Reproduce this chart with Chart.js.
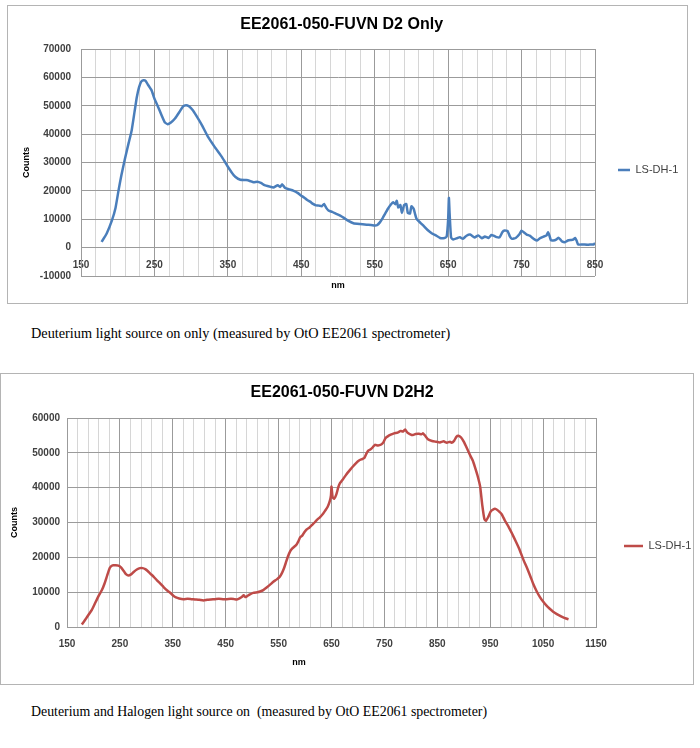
<!DOCTYPE html>
<html><head><meta charset="utf-8">
<script src="https://cdn.jsdelivr.net/npm/chart.js@4/dist/chart.umd.min.js"></script>
<style>
html,body{margin:0;padding:0;background:#fff;}
body{position:relative;width:700px;height:748px;overflow:hidden;}
.box{position:absolute;border:1px solid #b4b4b4;}
.box canvas{position:absolute;left:0;top:0;}
.cap{position:absolute;left:31px;font-family:"Liberation Serif","Times New Roman",serif;font-size:15px;line-height:20px;color:#000;white-space:pre;transform-origin:0 50%;}
</style></head><body>
<div class="box" style="left:7px;top:5px;width:679px;height:297px"><canvas id="c1" width="678" height="296"></canvas></div>
<div class="cap" style="top:323px;transform:scaleX(0.952)">Deuterium light source on only (measured by OtO EE2061 spectrometer)</div>
<div class="box" style="left:0;top:373px;width:692px;height:310px"><canvas id="c2" width="692" height="310"></canvas></div>
<div class="cap" style="top:701px;transform:scaleX(0.924)">Deuterium and Halogen light source on  (measured by OtO EE2061 spectrometer)</div>
<script>
// ---- data ----
const title1 = 'EE2061-050-FUVN D2 Only';
const title2 = 'EE2061-050-FUVN D2H2';
const seriesLabel = 'LS-DH-1';
const xTitle = 'nm';
const yTitle = 'Counts';

const xMajor1 = [150, 250, 350, 450, 550, 650, 750, 850];
const yTicks1 = [-10000, 0, 10000, 20000, 30000, 40000, 50000, 60000, 70000];
const xMajor2 = [150, 250, 350, 450, 550, 650, 750, 850, 950, 1050, 1150];
const yTicks2 = [0, 10000, 20000, 30000, 40000, 50000, 60000];

const nm1 = [178,185,192,197,201,205,210,215,219,223,226,229,232,235,238,241,246,250,255,260,264,268,272,278,284,289,293,297,302,307,315,323,332,342,350,355,360,367,375,380,385,390,395,400,407,412,418,421,424,428,434,439,445,450,453,458,462,466,470,474,478,481,484,487,492,497,503,508,513,521,530,539,545,550,553,557,561,564,568,572,575,578,580,582,585,587,590,593,595,598,600,603,605,607,612,616,622,628,632,639,645,648,650,651,652,654,657,662,666,670,675,680,686,691,696,700,705,709,712,716,720,724,727,731,734,737,742,747,750,753,757,761,764,767,771,775,780,784,786,788,790,793,797,800,803,805,809,813,817,820,823,825,827,833,840,845,848,850];
const counts1 = [2000,5000,9500,14000,20000,25500,31500,37000,41300,48000,53000,56500,58500,59000,58800,57500,55500,52500,49600,46500,44200,43500,44000,45500,47800,49800,50200,49800,48500,46500,43000,39000,35500,31900,28500,26600,25000,23900,23800,23500,23000,23200,22800,22000,21500,21200,22000,21400,22300,21000,20500,20100,19300,18300,17800,16800,16200,15400,14900,14800,14600,15400,14000,13100,12600,12000,11300,10500,9600,8600,8300,8100,8000,7800,7900,8900,10500,11900,13700,15200,16000,15300,16500,14200,15000,12200,15000,15400,12300,12000,14600,13700,11800,10100,8800,7800,6200,5000,4500,3400,3400,3900,10000,17500,12000,3500,2900,3300,3700,3100,4200,4600,3600,4300,3300,3900,3400,4500,4200,3700,3600,5500,6000,5800,4000,3100,3400,4700,6000,5400,4600,4200,3600,3000,2500,3300,3900,4300,5400,4200,2600,2500,2800,3500,2800,2200,1900,2500,2700,2800,3400,2400,1100,1100,1000,1100,1100,1600];

const nm2 = [178,185,192,197,203,210,216,221,226,231,236,242,247,252,258,262,266,271,276,282,288,293,298,303,307,314,320,326,333,340,346,351,356,362,370,378,385,392,400,408,415,422,430,437,445,452,460,466,471,477,481,484,487,490,495,502,510,515,521,528,535,540,546,552,556,560,564,568,572,576,580,584,587,591,595,599,603,608,614,618,622,628,634,638,643,647,649,650,652,655,659,663,666,672,678,685,690,696,702,708,712,716,720,724,728,732,738,744,748,752,757,762,768,775,781,785,789,793,798,804,809,815,820,823,827,833,840,847,855,862,868,874,877,882,886,890,895,900,906,912,917,921,926,931,935,939,942,946,951,956,960,965,972,978,985,991,998,1005,1013,1020,1026,1031,1038,1044,1050,1056,1062,1069,1076,1083,1090,1098];
const counts2 = [700,2200,3800,4900,6800,9000,10600,12500,14800,17000,17700,17700,17600,17100,15900,15100,14800,15100,15800,16500,16900,16900,16600,16000,15400,14400,13400,12500,11400,10400,9700,9000,8500,8200,8000,8100,8000,7900,7800,7600,7800,7900,8000,8100,8000,8000,8100,8000,7900,8300,8700,9100,8600,8800,9300,9800,10000,10200,10600,11400,12300,13000,13600,14400,15400,16800,18600,20400,21800,22600,23100,23700,24500,25800,26300,27300,28000,28500,29400,30000,30700,31500,32500,33400,34600,36300,37800,40300,37300,36800,38000,40200,41300,42500,43800,45100,46000,47000,47800,48200,48500,49800,50700,51000,51600,52300,52100,52400,53000,54200,54800,55200,55600,55800,56300,56100,56700,55900,55400,55100,55400,55500,55300,55600,54900,53800,53400,53200,53000,53300,52900,53200,52900,53500,54600,54900,54400,53200,51300,49300,47800,46000,43500,40300,35000,31000,30500,31500,33200,33800,33900,33400,32300,30500,28700,26900,24700,22400,19200,16800,14500,12500,10200,8600,7300,6200,5300,4400,3700,3100,2600,2200];

// ---- styling ----
const FONT = '"Liberation Sans", Arial, sans-serif';
const GRID_MAJOR = '#9b9b9b', GRID_MINOR = '#d6d6d6', TXT = '#404040';

const legendPlace = {
  id: 'legendPlace',
  afterLayout(chart, args, o) {
    const lg = chart.legend;
    if (!lg || o.x == null) return;
    const pad = lg.options.labels.padding;
    const dx = o.x - (lg.left + pad);
    const dy = o.y - (lg.top + lg.bottom) / 2;
    lg.left += dx; lg.right += dx; lg.top += dy; lg.bottom += dy;
  }
};

function build(id, s) {
  return new Chart(document.getElementById(id), {
    type: 'line',
    data: { datasets: [{
      label: seriesLabel,
      data: s.nm.map((x, i) => ({ x: x, y: s.counts[i] })),
      borderColor: s.color, backgroundColor: s.color,
      borderWidth: 2.5, pointRadius: 0, tension: 0.15, fill: false
    }]},
    plugins: [legendPlace],
    options: {
      responsive: false, animation: false, devicePixelRatio: 1,
      events: [],
      layout: { padding: { left: 0, top: 0, right: s.padR, bottom: s.padB } },
      plugins: {
        title: { display: true, text: s.title, color: '#000',
                 font: { family: FONT, size: 16, weight: 'bold' },
                 padding: { top: s.tpt, bottom: s.tpb } },
        legend: { position: 'right',
                  labels: { usePointStyle: true, pointStyle: 'line', pointStyleWidth: s.lw,
                            color: TXT, font: { family: FONT, size: 11 }, padding: 10 } },
        legendPlace: { x: s.lx, y: s.ly },
        tooltip: { enabled: false }
      },
      scales: {
        x: {
          type: 'linear', position: s.xPos, min: s.xMajor[0], max: s.xMajor[s.xMajor.length - 1],
          ticks: { stepSize: 20, autoSkip: false, maxRotation: 0, padding: s.xtp, color: TXT,
                   font: { family: FONT, size: 10, weight: 'bold' },
                   callback: (v) => s.xMajor.includes(Math.round(v)) ? String(Math.round(v)) : '' },
          grid: { drawTicks: false, lineWidth: 1,
                  color: (c) => (c.tick && s.xMajor.includes(Math.round(c.tick.value))) ? GRID_MAJOR : GRID_MINOR },
          border: { color: GRID_MAJOR },
          title: { display: true, text: s.xTitleText, color: '#000',
                   font: { family: FONT, size: 9, weight: 'bold' }, padding: { top: 0, bottom: 0 } },
          afterFit: (sc) => { sc.height = s.xH; }
        },
        y: {
          min: s.yTicks[0], max: s.yTicks[s.yTicks.length - 1],
          afterBuildTicks: (sc) => { sc.ticks = s.yTicks.map(v => ({ value: v })); },
          ticks: { padding: s.ytp, color: TXT, font: { family: FONT, size: 10, weight: 'bold' },
                   callback: (v) => String(v) },
          grid: { drawTicks: false, color: GRID_MAJOR, lineWidth: 1 },
          border: { color: GRID_MAJOR },
          title: { display: true, text: yTitle, color: '#000',
                   font: { family: FONT, size: 9, weight: 'bold' }, padding: { top: s.ytt, bottom: 0 } },
          afterFit: (sc) => { sc.width = s.yW; }
        }
      }
    }
  });
}

build('c1', {
  nm: nm1, counts: counts1, color: '#4a7ebb', title: title1,
  xMajor: xMajor1, yTicks: yTicks1, xPos: { y: 0 }, xTitleText: xTitle,
  padR: 10.7, padB: 26, tpt: 9.4, tpb: 14.4, lw: 12, lx: 610, ly: 164,
  xtp: 12, xH: 43.4, ytp: 10, ytt: 13.6, yW: 73
});
build('c2', {
  nm: nm2, counts: counts2, color: '#be4b48', title: title2,
  xMajor: xMajor2, yTicks: yTicks2, xPos: 'bottom', xTitleText: xTitle + ' '.repeat(26),
  padR: 9.7, padB: 15.6, tpt: 9.4, tpb: 15.4, lw: 19, lx: 623, ly: 172,
  xtp: 11, xH: 41.4, ytp: 7, ytt: 8.6, yW: 66
});
</script>
</body></html>
